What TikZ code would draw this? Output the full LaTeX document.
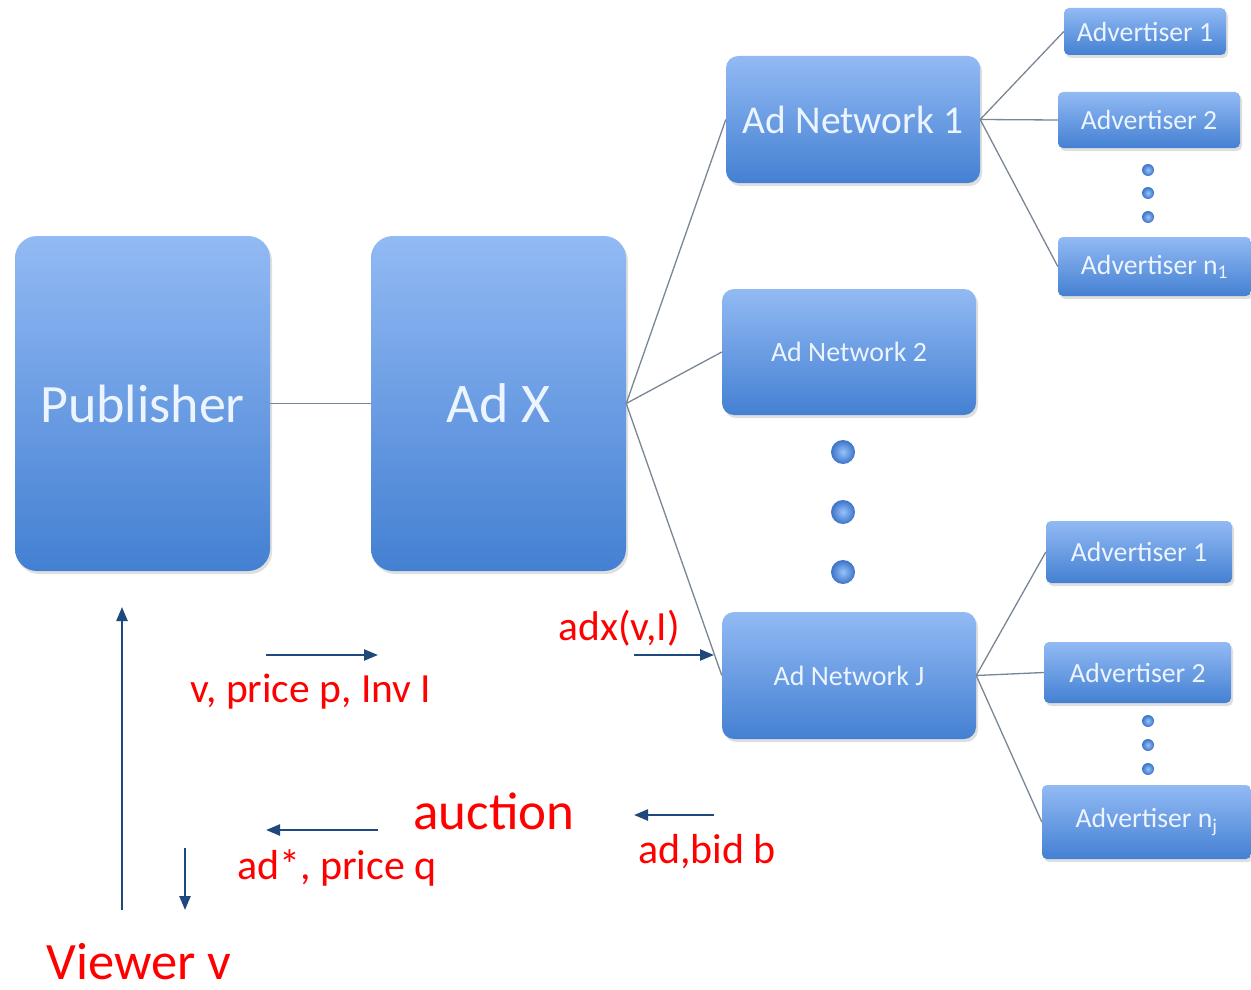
\documentclass[tikz,border=0pt]{standalone}
\usepackage{fontspec}
\setmainfont{Carlito}
\usetikzlibrary{shadows,arrows.meta}
\definecolor{boxtop}{RGB}{146,186,244}
\definecolor{boxbot}{RGB}{68,128,210}
\definecolor{boxtxt}{RGB}{236,244,255}
\definecolor{linkgray}{RGB}{120,134,150}
\definecolor{arrblue}{RGB}{31,73,125}
\definecolor{dotin}{RGB}{150,195,250}
\definecolor{dotout}{RGB}{60,115,200}
\tikzset{
  bluebox/.style={draw=none, top color=boxtop, bottom color=boxbot, text=boxtxt,
    inner sep=0pt, drop shadow={shadow xshift=2pt, shadow yshift=-3pt, opacity=0.25}},
  link/.style={draw=linkgray, line width=1.3pt},
  flow/.style={draw=arrblue, line width=2.4pt, -{Triangle[length=14pt,width=11pt]}},
  redtxt/.style={text=red, inner sep=0pt, anchor=center},
  dot/.style={circle, inner sep=0pt, inner color=dotin, outer color=dotout},
}
\begin{document}
\begin{tikzpicture}[x=1pt,y=-1pt]
\useasboundingbox[fill=white] (0,0) rectangle (1251,990);
% main boxes
\node[bluebox, rounded corners=22pt, minimum width=255pt, minimum height=335pt, font=\fontsize{54}{60}\selectfont] (pub) at (142.5,403.5) {Publisher};
\node[bluebox, rounded corners=22pt, minimum width=255pt, minimum height=335pt, font=\fontsize{56}{62}\selectfont] (adx) at (498.5,403.5) {Ad X};
\node[bluebox, rounded corners=12pt, minimum width=254pt, minimum height=127pt, font=\fontsize{39.5}{44}\selectfont] (an1) at (853,119.5) {Ad Network 1};
\node[bluebox, rounded corners=12pt, minimum width=254pt, minimum height=126pt, font=\fontsize{28}{32}\selectfont] (an2) at (849,352) {Ad Network 2};
\node[bluebox, rounded corners=12pt, minimum width=254pt, minimum height=127pt, font=\fontsize{28}{32}\selectfont] (anj) at (849,675.5) {Ad Network J};
% advertisers
\node[bluebox, rounded corners=5pt, minimum width=162pt, minimum height=47pt, font=\fontsize{27.7}{30}\selectfont] (a11) at (1145,31.5) {Advertiser 1};
\node[bluebox, rounded corners=5pt, minimum width=182pt, minimum height=56pt, font=\fontsize{27.7}{30}\selectfont] (a12) at (1149,120) {Advertiser 2};
\node[bluebox, rounded corners=5pt, minimum width=193pt, minimum height=59pt, font=\fontsize{27.7}{30}\selectfont] (a1n) at (1154.5,266.5) {Advertiser n\textsubscript{1}};
\node[bluebox, rounded corners=5pt, minimum width=186pt, minimum height=62pt, font=\fontsize{27.7}{30}\selectfont] (aj1) at (1139,552) {Advertiser 1};
\node[bluebox, rounded corners=5pt, minimum width=187pt, minimum height=61pt, font=\fontsize{27.7}{30}\selectfont] (aj2) at (1137.5,672.5) {Advertiser 2};
\node[bluebox, rounded corners=5pt, minimum width=209pt, minimum height=74pt, font=\fontsize{27.7}{30}\selectfont] (ajn) at (1146.5,822) {Advertiser n\textsubscript{j}};
% dots
\node[dot, minimum size=24pt] (d1) at (843,452) {};
\node[dot, minimum size=24pt] (d2) at (843,512) {};
\node[dot, minimum size=24pt] (d3) at (843,572) {};
\node[dot, minimum size=12pt] (e1) at (1148,170) {};
\node[dot, minimum size=12pt] (e2) at (1148,193) {};
\node[dot, minimum size=12pt] (e3) at (1148,217) {};
\node[dot, minimum size=12pt] (f1) at (1148,721) {};
\node[dot, minimum size=12pt] (f2) at (1148,745) {};
\node[dot, minimum size=12pt] (f3) at (1148,769) {};
% links
\draw[link] (pub.east) -- (adx.west);
\draw[link] (adx.east) -- (an1.west);
\draw[link] (adx.east) -- (an2.west);
\draw[link] (adx.east) -- (anj.west);
\draw[link] (an1.east) -- (a11.west);
\draw[link] (an1.east) -- (a12.west);
\draw[link] (an1.east) -- (a1n.west);
\draw[link] (anj.east) -- (aj1.west);
\draw[link] (anj.east) -- (aj2.west);
\draw[link] (anj.east) -- (ajn.west);
% red labels
\node[redtxt, font=\fontsize{41.5}{46}\selectfont] (ladx) at (619,628) {adx(v,I)};
\node[redtxt, font=\fontsize{41.5}{46}\selectfont] (lvp) at (311,692) {v, price p, Inv I};
\node[redtxt, font=\fontsize{53}{58}\selectfont] (lauc) at (494,811) {auction};
\node[redtxt, font=\fontsize{42}{46}\selectfont] (lad) at (337,868) {ad*, price q};
\node[redtxt, font=\fontsize{42}{46}\selectfont] (lbid) at (707,852) {ad,bid b};
\node[redtxt, font=\fontsize{52.5}{58}\selectfont, text depth=0pt, anchor=base] (lview) at (139,979) {Viewer v};
% arrows
\coordinate (u0) at (122,910); \coordinate (u1) at (122,607);
\coordinate (r0) at (266,655); \coordinate (r1) at (378,655);
\coordinate (l0) at (378,830); \coordinate (l1) at (266,830);
\coordinate (w0) at (185,848); \coordinate (w1) at (185,910);
\coordinate (x0) at (634,655); \coordinate (x1) at (714,655);
\coordinate (b0) at (714,815); \coordinate (b1) at (634,815);
\draw[flow] (u0) -- (u1);
\draw[flow] (r0) -- (r1);
\draw[flow] (l0) -- (l1);
\draw[flow] (w0) -- (w1);
\draw[flow] (x0) -- (x1);
\draw[flow] (b0) -- (b1);
\end{tikzpicture}
\end{document}
